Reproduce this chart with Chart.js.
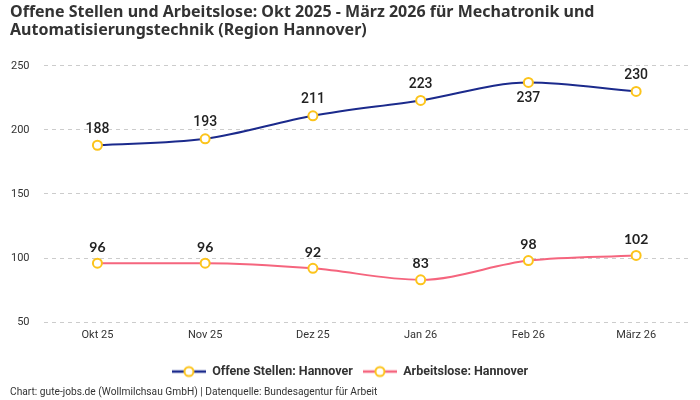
<!DOCTYPE html>
<html>
<head>
<meta charset="utf-8">
<script src="https://cdn.jsdelivr.net/npm/chart.js@4"></script>
<style>
  body { margin: 0; background: #fff; }
  #wrap { width: 700px; height: 400px; }
</style>
</head>
<body>
<div id="wrap"><canvas id="myChart"></canvas></div>
<script>
// data
const months = ["Okt 25", "Nov 25", "Dez 25", "Jan 26", "Feb 26", "März 26"]
const offeneStellen = [188, 193, 211, 223, 237, 230]
const arbeitslose = [96, 96, 92, 83, 98, 102]
const yTicks = [50, 100, 150, 200, 250]

const navy = "#1b2a8c"
const pink = "#f5657e"
const gold = "#fcc41c"

// legend symbol: line with a hollow circle in the middle
function legendIcon(color) {
    let c = document.createElement("canvas")
    c.width = 34
    c.height = 14
    let g = c.getContext("2d")
    g.strokeStyle = color
    g.lineWidth = 2.5
    g.beginPath()
    g.moveTo(0, 7)
    g.lineTo(34, 7)
    g.stroke()
    g.beginPath()
    g.arc(17, 7, 4.5, 0, Math.PI * 2)
    g.fillStyle = "#fff"
    g.fill()
    g.strokeStyle = gold
    g.lineWidth = 2
    g.stroke()
    return c
}

// draws the value next to every point
const valueLabels = {
    id: "valueLabels",
    afterDatasetsDraw(chart) {
        let ctx = chart.ctx
        ctx.save()
        ctx.textAlign = "center"
        ctx.textBaseline = "middle"
        chart.data.datasets.forEach((ds, i) => {
            let meta = chart.getDatasetMeta(i)
            meta.data.forEach((pt, j) => {
                let below = (i == 0 && j == 4)
                ctx.font = i == 0 ? "500 14px Roboto" : "bold 14px Lato"
                ctx.fillStyle = "#222"
                ctx.fillText(ds.data[j], pt.x, below ? pt.y + 16 : pt.y - 16)
            })
        })
        ctx.restore()
    }
}

const ctx = document.getElementById("myChart")
new Chart(ctx, {
    type: "line",
    data: {
        labels: months,
        datasets: [{
            label: "Offene Stellen: Hannover",
            data: offeneStellen,
            borderColor: navy,
            borderWidth: 2,
            cubicInterpolationMode: "monotone",
            pointRadius: 4.5,
            pointBorderWidth: 2,
            pointBackgroundColor: "#fff",
            pointBorderColor: gold
        }, {
            label: "Arbeitslose: Hannover",
            data: arbeitslose,
            borderColor: pink,
            borderWidth: 2,
            cubicInterpolationMode: "monotone",
            pointRadius: 4.5,
            pointBorderWidth: 2,
            pointBackgroundColor: "#fff",
            pointBorderColor: gold
        }]
    },
    options: {
        responsive: true,
        maintainAspectRatio: false,
        animation: false,
        layout: { padding: { left: 10, right: 10, top: 3, bottom: 0 } },
        scales: {
            x: {
                offset: true,
                grid: { display: false, drawTicks: false },
                border: { display: false },
                ticks: { color: "#333", font: { family: "Roboto", size: 11 }, padding: 7 },
                afterFit: axis => { axis.height += 6 }
            },
            y: {
                min: 50,
                max: 250,
                afterBuildTicks: axis => { axis.ticks = yTicks.map(v => ({ value: v })) },
                grid: { color: "#cccccc", drawTicks: false },
                border: { display: false, dash: [4, 4] },
                ticks: { color: "#333", font: { family: "Roboto", size: 11 }, padding: 14 },
                afterFit: axis => { axis.width -= 13 }
            }
        },
        plugins: {
            title: {
                display: true,
                align: "start",
                text: ["Offene Stellen und Arbeitslose: Okt 2025 - März 2026 für Mechatronik und", "Automatisierungstechnik (Region Hannover)"],
                color: "#333",
                font: { family: "Noto Sans", size: 16, weight: "bold", lineHeight: 1.15 },
                padding: { top: 0, bottom: 26 }
            },
            legend: {
                position: "bottom",
                labels: {
                    usePointStyle: true,
                    pointStyleWidth: 34,
                    color: "#333",
                    font: { family: "Roboto", size: 12.5, weight: "bold" },
                    padding: 10,
                    generateLabels: chart => chart.data.datasets.map((ds, i) => ({
                        text: ds.label,
                        pointStyle: legendIcon(ds.borderColor),
                        datasetIndex: i,
                        fontColor: "#333",
                        hidden: false
                    }))
                }
            },
            subtitle: {
                display: true,
                position: "bottom",
                align: "start",
                text: "Chart: gute-jobs.de (Wollmilchsau GmbH) | Datenquelle: Bundesagentur für Arbeit",
                color: "#333",
                font: { family: "Roboto", size: 10.2, lineHeight: 1 },
                padding: { top: 0, bottom: 2 }
            },
            tooltip: { enabled: false }
        }
    },
    plugins: [valueLabels]
});
</script>
</body>
</html>
